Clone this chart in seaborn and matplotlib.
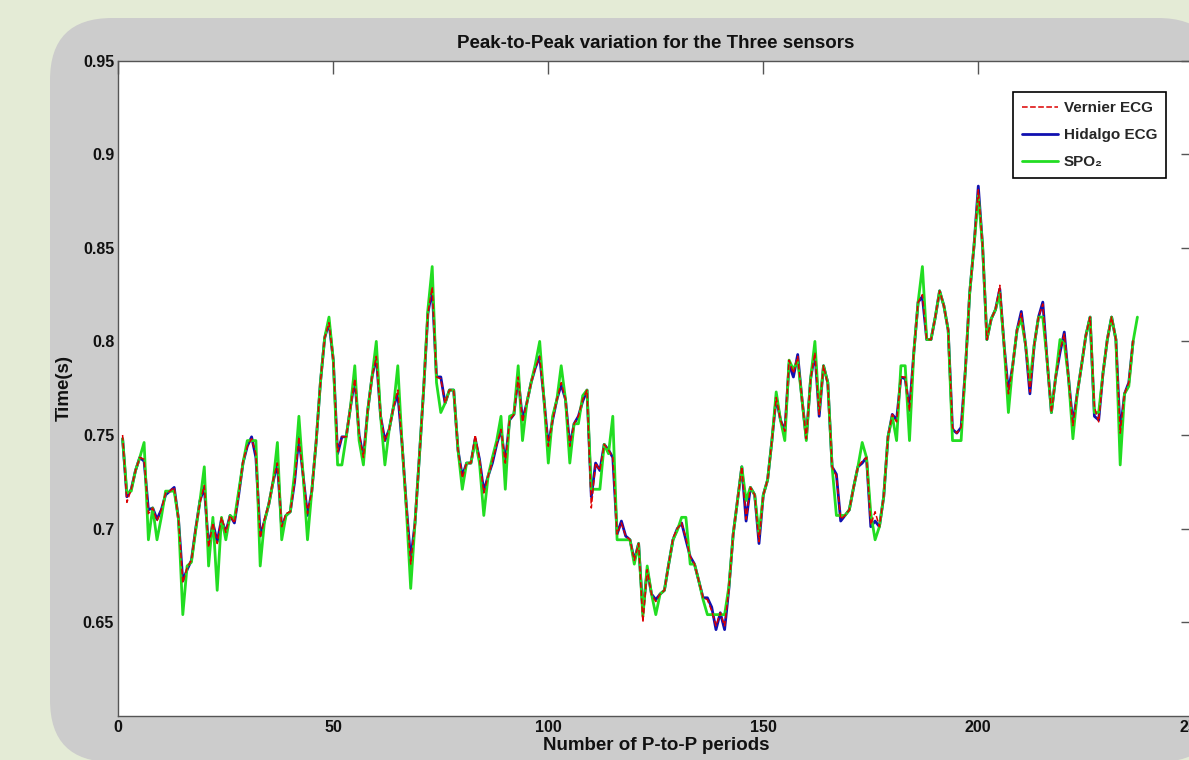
"""
Peak-to-Peak variation for the three sensors (Vernier ECG, Hidalgo ECG, SPO2)
"""

import numpy as np
import pandas as pd
import matplotlib
matplotlib.use('Agg')
import matplotlib.pyplot as plt
from matplotlib.patches import FancyBboxPatch
import seaborn as sns

sns.set_style('white')
plt.rcParams['font.family'] = ['Liberation Sans', 'DejaVu Sans']
plt.rcParams['font.weight'] = 'bold'

# ---- data (one value per P-to-P period) ----
spo2 = [
    0.748, 0.719, 0.720, 0.731, 0.738, 0.746, 0.694, 0.711, 0.694, 0.706,
    0.720, 0.720, 0.720, 0.705, 0.654, 0.680, 0.682, 0.699, 0.715, 0.733,
    0.680, 0.706, 0.667, 0.706, 0.694, 0.707, 0.705, 0.720, 0.735, 0.747,
    0.747, 0.747, 0.680, 0.704, 0.713, 0.725, 0.746, 0.694, 0.707, 0.709,
    0.730, 0.760, 0.728, 0.694, 0.720, 0.746, 0.778, 0.802, 0.813, 0.790,
    0.734, 0.734, 0.749, 0.765, 0.787, 0.747, 0.734, 0.763, 0.781, 0.800,
    0.760, 0.734, 0.753, 0.765, 0.787, 0.745, 0.710, 0.668, 0.703, 0.738,
    0.774, 0.817, 0.840, 0.778, 0.762, 0.767, 0.774, 0.774, 0.742, 0.721,
    0.735, 0.735, 0.747, 0.735, 0.707, 0.728, 0.738, 0.747, 0.760, 0.721,
    0.760, 0.761, 0.787, 0.747, 0.767, 0.778, 0.788, 0.800, 0.769, 0.735,
    0.760, 0.769, 0.787, 0.769, 0.735, 0.756, 0.756, 0.771, 0.774, 0.721,
    0.721, 0.721, 0.745, 0.740, 0.760, 0.694, 0.694, 0.694, 0.694, 0.681,
    0.692, 0.653, 0.680, 0.665, 0.654, 0.665, 0.667, 0.681, 0.694, 0.699,
    0.706, 0.706, 0.681, 0.681, 0.672, 0.662, 0.654, 0.654, 0.654, 0.654,
    0.654, 0.669, 0.697, 0.715, 0.733, 0.715, 0.722, 0.718, 0.697, 0.718,
    0.726, 0.747, 0.773, 0.758, 0.747, 0.790, 0.785, 0.790, 0.769, 0.747,
    0.780, 0.800, 0.763, 0.787, 0.778, 0.733, 0.707, 0.707, 0.707, 0.710,
    0.722, 0.733, 0.746, 0.738, 0.708, 0.694, 0.701, 0.717, 0.749, 0.760,
    0.747, 0.787, 0.787, 0.747, 0.794, 0.821, 0.840, 0.801, 0.801, 0.813,
    0.827, 0.819, 0.806, 0.747, 0.747, 0.747, 0.785, 0.826, 0.851, 0.878,
    0.851, 0.801, 0.812, 0.817, 0.826, 0.798, 0.762, 0.787, 0.806, 0.812,
    0.798, 0.778, 0.798, 0.813, 0.813, 0.790, 0.762, 0.781, 0.801, 0.799,
    0.780, 0.748, 0.772, 0.787, 0.803, 0.813, 0.762, 0.762, 0.783, 0.801,
    0.813, 0.801, 0.734, 0.772, 0.776, 0.800, 0.813,
]

hidalgo_ecg = [
    0.748, 0.717, 0.721, 0.731, 0.738, 0.736, 0.710, 0.711, 0.705, 0.710,
    0.718, 0.720, 0.722, 0.705, 0.672, 0.678, 0.683, 0.700, 0.715, 0.722,
    0.690, 0.703, 0.693, 0.705, 0.698, 0.707, 0.703, 0.718, 0.735, 0.744,
    0.749, 0.738, 0.696, 0.704, 0.713, 0.725, 0.735, 0.700, 0.707, 0.709,
    0.725, 0.749, 0.728, 0.707, 0.720, 0.746, 0.778, 0.802, 0.810, 0.790,
    0.740, 0.749, 0.749, 0.765, 0.780, 0.750, 0.738, 0.763, 0.781, 0.792,
    0.760, 0.747, 0.753, 0.765, 0.772, 0.745, 0.712, 0.683, 0.703, 0.738,
    0.774, 0.815, 0.828, 0.781, 0.781, 0.767, 0.774, 0.774, 0.742, 0.728,
    0.735, 0.735, 0.748, 0.737, 0.720, 0.728, 0.735, 0.745, 0.753, 0.735,
    0.758, 0.761, 0.781, 0.758, 0.767, 0.778, 0.786, 0.792, 0.769, 0.744,
    0.758, 0.769, 0.777, 0.769, 0.744, 0.756, 0.760, 0.768, 0.774, 0.717,
    0.735, 0.731, 0.745, 0.742, 0.738, 0.697, 0.704, 0.696, 0.694, 0.683,
    0.692, 0.655, 0.678, 0.665, 0.662, 0.665, 0.667, 0.681, 0.694, 0.700,
    0.703, 0.694, 0.685, 0.681, 0.672, 0.663, 0.663, 0.658, 0.646, 0.655,
    0.646, 0.668, 0.697, 0.715, 0.733, 0.704, 0.722, 0.718, 0.692, 0.718,
    0.726, 0.747, 0.770, 0.758, 0.752, 0.788, 0.781, 0.793, 0.769, 0.748,
    0.780, 0.794, 0.760, 0.787, 0.778, 0.733, 0.729, 0.704, 0.707, 0.710,
    0.722, 0.733, 0.735, 0.738, 0.701, 0.704, 0.701, 0.717, 0.749, 0.761,
    0.758, 0.781, 0.780, 0.763, 0.794, 0.821, 0.824, 0.801, 0.801, 0.813,
    0.827, 0.819, 0.806, 0.753, 0.751, 0.754, 0.785, 0.826, 0.851, 0.883,
    0.851, 0.801, 0.812, 0.817, 0.828, 0.798, 0.773, 0.787, 0.806, 0.816,
    0.798, 0.772, 0.798, 0.813, 0.821, 0.790, 0.762, 0.781, 0.794, 0.805,
    0.780, 0.756, 0.772, 0.787, 0.803, 0.813, 0.760, 0.758, 0.783, 0.801,
    0.813, 0.801, 0.751, 0.772, 0.778, 0.800,
]

vernier_ecg = [
    0.750, 0.714, 0.721, 0.731, 0.738, 0.737, 0.708, 0.711, 0.704, 0.710,
    0.719, 0.720, 0.722, 0.705, 0.671, 0.679, 0.683, 0.700, 0.714, 0.723,
    0.690, 0.703, 0.692, 0.706, 0.698, 0.707, 0.703, 0.718, 0.736, 0.744,
    0.748, 0.740, 0.695, 0.705, 0.713, 0.726, 0.735, 0.701, 0.708, 0.709,
    0.725, 0.749, 0.728, 0.708, 0.720, 0.746, 0.778, 0.802, 0.810, 0.790,
    0.741, 0.749, 0.749, 0.765, 0.780, 0.751, 0.738, 0.763, 0.781, 0.792,
    0.760, 0.747, 0.753, 0.765, 0.774, 0.745, 0.712, 0.681, 0.703, 0.738,
    0.774, 0.815, 0.829, 0.781, 0.780, 0.767, 0.774, 0.774, 0.742, 0.727,
    0.735, 0.735, 0.750, 0.737, 0.719, 0.728, 0.736, 0.745, 0.753, 0.735,
    0.758, 0.761, 0.781, 0.757, 0.767, 0.778, 0.786, 0.792, 0.769, 0.744,
    0.758, 0.769, 0.778, 0.769, 0.744, 0.756, 0.760, 0.769, 0.774, 0.711,
    0.735, 0.731, 0.745, 0.742, 0.738, 0.697, 0.703, 0.696, 0.694, 0.683,
    0.692, 0.650, 0.678, 0.665, 0.661, 0.665, 0.667, 0.681, 0.695, 0.700,
    0.703, 0.695, 0.685, 0.681, 0.672, 0.663, 0.662, 0.656, 0.648, 0.655,
    0.648, 0.668, 0.697, 0.715, 0.733, 0.705, 0.722, 0.718, 0.693, 0.718,
    0.726, 0.747, 0.770, 0.758, 0.752, 0.790, 0.783, 0.792, 0.769, 0.748,
    0.780, 0.794, 0.761, 0.787, 0.777, 0.733, 0.728, 0.705, 0.707, 0.710,
    0.722, 0.733, 0.736, 0.738, 0.702, 0.709, 0.701, 0.717, 0.749, 0.761,
    0.757, 0.781, 0.781, 0.763, 0.794, 0.821, 0.825, 0.801, 0.801, 0.813,
    0.827, 0.819, 0.806, 0.754, 0.751, 0.754, 0.785, 0.826, 0.851, 0.881,
    0.851, 0.801, 0.812, 0.817, 0.830, 0.798, 0.772, 0.787, 0.806, 0.815,
    0.798, 0.773, 0.798, 0.813, 0.820, 0.790, 0.762, 0.781, 0.795, 0.804,
    0.780, 0.755, 0.772, 0.787, 0.803, 0.813, 0.765, 0.757, 0.783, 0.801,
    0.813, 0.801, 0.751, 0.772, 0.778, 0.801,
]

x_ticks = [0, 50, 100, 150, 200, 250]
y_ticks = [0.65, 0.7, 0.75, 0.8, 0.85, 0.9, 0.95]
y_tick_labels = ['0.65', '0.7', '0.75', '0.8', '0.85', '0.9', '0.95']

W, H, DPI = 1189, 760, 100
fig = plt.figure(figsize=(W / DPI, H / DPI), dpi=DPI, facecolor='#e4ebd6')

# grey rounded panel behind the axes
panel = FancyBboxPatch((50 / W, -2 / H), 1170 / W, 744 / H,
                       boxstyle='round,pad=0,rounding_size=%f' % (62 / W),
                       mutation_aspect=W / H, transform=fig.transFigure,
                       facecolor='#cccccc', edgecolor='none', zorder=-10)
fig.patches.append(panel)

ax = fig.add_axes([118.3 / W, (H - 715.7) / H, 1075 / W, 655 / H])
ax.set_zorder(1)
ax.set_facecolor('white')

df_b = pd.DataFrame({'period': np.arange(1, len(hidalgo_ecg) + 1), 'time': hidalgo_ecg})
df_g = pd.DataFrame({'period': np.arange(1, len(spo2) + 1), 'time': spo2})
df_r = pd.DataFrame({'period': np.arange(1, len(vernier_ecg) + 1), 'time': vernier_ecg})

sns.lineplot(data=df_b, x='period', y='time', ax=ax, color='#1010b0', lw=2.0,
             label='Hidalgo ECG', zorder=2)
sns.lineplot(data=df_g, x='period', y='time', ax=ax, color='#22dd22', lw=2.0,
             label='SPO\u2082', zorder=3)
sns.lineplot(data=df_r, x='period', y='time', ax=ax, color='#dd0000', lw=1.1,
             linestyle='--', dashes=(3, 1.5), label='Vernier ECG', zorder=4)

ax.set_xlim(0, 250)
ax.set_ylim(0.6, 0.95)
ax.set_xticks(x_ticks)
ax.set_yticks(y_ticks)
ax.set_yticklabels(y_tick_labels)

for s in ax.spines.values():
    s.set_color('#555555')
    s.set_linewidth(1.0)
ax.tick_params(direction='in', top=True, right=True, length=9, width=1,
               color='#555555', labelsize=11.5, labelcolor='#111111', pad=3)
for lab in ax.get_xticklabels() + ax.get_yticklabels():
    lab.set_fontweight('bold')

ax.set_title('Peak-to-Peak variation for the Three sensors', fontsize=13.5,
             fontweight='bold', color='#111111', pad=9)
ax.set_xlabel('Number of P-to-P periods', fontsize=13.5, fontweight='bold', color='#111111')
ax.set_ylabel('Time(s)', fontsize=13.5, fontweight='bold', color='#111111')
ax.xaxis.set_label_coords(0.5, -0.032)
ax.yaxis.set_label_coords(-0.042, 0.5)

# legend in the same order as the original
handles, labels = ax.get_legend_handles_labels()
order = ['Vernier ECG', 'Hidalgo ECG', 'SPO\u2082']
hmap = dict(zip(labels, handles))
leg = ax.legend([hmap[k] for k in order], order, loc='upper left',
                bbox_to_anchor=(0.8325, 0.952), borderaxespad=0,
                prop={'weight': 'bold', 'size': 11}, handlelength=2.3,
                handletextpad=0.4, labelspacing=0.85, borderpad=0.6,
                fancybox=False, framealpha=1, edgecolor='black')
leg.get_frame().set_linewidth(1.2)

fig.savefig('out.png', dpi=DPI, facecolor=fig.get_facecolor())
